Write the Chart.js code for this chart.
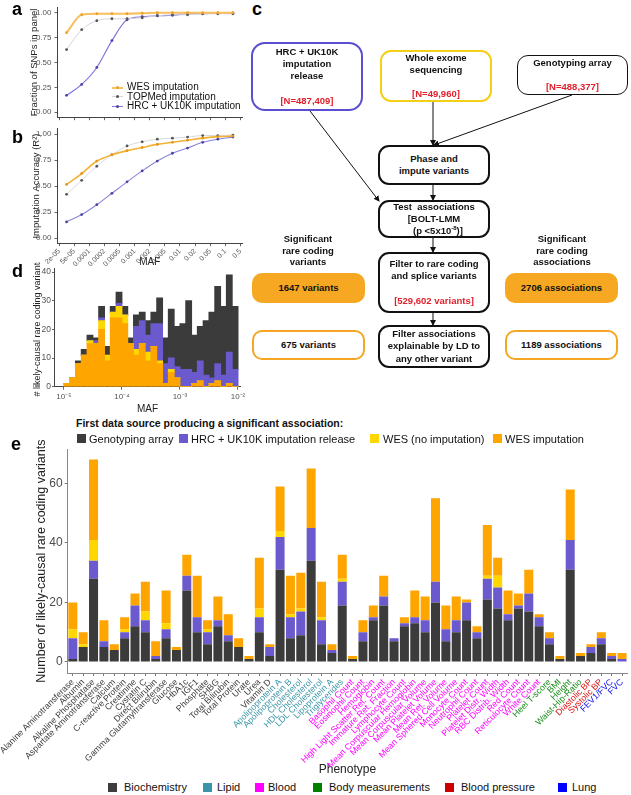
<!DOCTYPE html>
<html>
<head>
<meta charset="utf-8">
<script src="https://cdn.jsdelivr.net/npm/chart.js@4.4.1/dist/chart.umd.min.js"></script>
<style>
  body { margin: 0; background: #fff; font-family: "Liberation Sans", Arial, sans-serif; }
  #page { position: relative; width: 631px; height: 795px; overflow: hidden; }
  canvas { position: absolute; }
  .tag { position: absolute; font-weight: bold; font-size: 18px; line-height: 18px; color: #000; }
  .fbox { position: absolute; box-sizing: border-box; border: 2px solid #111; border-radius: 11px; background: #fff;
          display: flex; flex-direction: column; justify-content: center; align-items: center; text-align: center;
          font-weight: bold; font-size: 9.5px; line-height: 12.2px; color: #111; }
  .red { color: #e2202c; }
  .side { position: absolute; width: 110px; text-align: center; font-weight: bold; font-size: 9.5px; line-height: 11.7px; color: #111; }
  .sq { position: absolute; width: 9px; height: 9px; }
  .lg { position: absolute; font-size: 11px; line-height: 12px; color: #111; white-space: nowrap; }
  .keyline { position: absolute; height: 0; }
  .keydot { position: absolute; width: 3px; height: 3px; border-radius: 50%; }
</style>
</head>
<body>
<div id="page">
  <canvas id="chartA" width="250" height="125" style="left:0;top:0"></canvas>
  <canvas id="chartB" width="250" height="150" style="left:0;top:121px"></canvas>
  <canvas id="chartD" width="250" height="155" style="left:0;top:262px"></canvas>
  <canvas id="chartE" width="631" height="340" style="left:0;top:440px"></canvas>

  <div class="tag" style="left:12px;top:0px">a</div>
  <div class="tag" style="left:12px;top:128px">b</div>
  <div class="tag" style="left:252px;top:0px">c</div>
  <div class="tag" style="left:12px;top:262px">d</div>
  <div class="tag" style="left:11px;top:435px">e</div>

  <!-- panel a key -->
  <div class="keyline" style="left:112px;top:86.5px;width:11px;border-top:2px solid #f7c062"></div>
  <div class="keydot" style="left:116px;top:86px;background:#eea224"></div>
  <div class="lg" style="left:127px;top:81px;font-size:10px">WES imputation</div>
  <div class="keyline" style="left:112px;top:96px;width:11px;border-top:1px solid #d4d4de"></div>
  <div class="keydot" style="left:116px;top:95px;background:#555"></div>
  <div class="lg" style="left:127px;top:90.5px;font-size:10px">TOPMed imputation</div>
  <div class="keyline" style="left:112px;top:105.5px;width:11px;border-top:1px solid #8178d8"></div>
  <div class="keydot" style="left:116px;top:104.5px;background:#4b43a8"></div>
  <div class="lg" style="left:127px;top:100px;font-size:10px">HRC + UK10K imputation</div>

  <!-- panel c flowchart -->
  <svg width="631" height="400" style="position:absolute;left:0;top:0">
    <defs>
      <marker id="arr" markerWidth="6" markerHeight="6" refX="5" refY="3" orient="auto" markerUnits="userSpaceOnUse">
        <path d="M0,0 L6,3 L0,6 z" fill="#111"/>
      </marker>
    </defs>
    <g stroke="#111" stroke-width="1" marker-end="url(#arr)">
      <line x1="310" y1="111" x2="379" y2="201"/>
      <line x1="433" y1="102" x2="433" y2="145"/>
      <line x1="572" y1="95" x2="434" y2="145"/>
      <line x1="433" y1="185" x2="433" y2="200"/>
      <line x1="433" y1="238" x2="433" y2="252"/>
      <line x1="433" y1="313" x2="433" y2="325"/>
    </g>
  </svg>
  <div class="fbox" style="left:251px;top:42px;width:112px;height:69px;border:2.5px solid #5a4fcf;border-radius:14px">
    <div>HRC + UK10K</div><div>imputation</div><div>release</div><div>&nbsp;</div><div class="red">[N=487,409]</div>
  </div>
  <div class="fbox" style="left:380px;top:50px;width:112px;height:52px;border-color:#f4cf1a">
    <div>Whole exome</div><div>sequencing</div><div>&nbsp;</div><div class="red">[N=49,960]</div>
  </div>
  <div class="fbox" style="left:517px;top:55px;width:111px;height:40px;border-width:1.5px">
    <div>Genotyping array</div><div>&nbsp;</div><div class="red">[N=488,377]</div>
  </div>
  <div class="fbox" style="left:378px;top:145px;width:112px;height:40px">
    <div>Phase and</div><div>impute variants</div>
  </div>
  <div class="fbox" style="left:378px;top:200px;width:112px;height:38px">
    <div>Test&nbsp; associations</div><div>[BOLT-LMM</div><div>&nbsp;&nbsp;&nbsp;(p &lt;5x10<sup style="font-size:6px;line-height:0">-8</sup>)]</div>
  </div>
  <div class="fbox" style="left:378px;top:252px;width:112px;height:61px">
    <div>Filter to rare coding</div><div>and splice variants</div><div>&nbsp;</div><div class="red">[529,602 variants]</div>
  </div>
  <div class="fbox" style="left:378px;top:325px;width:112px;height:43px;border-width:2.5px">
    <div>Filter associations</div><div>explainable by LD to</div><div>any other variant</div>
  </div>
  <div class="side" style="left:253px;top:233px">Significant<br>rare coding<br>variants</div>
  <div class="side" style="left:507px;top:233px">Significant<br>rare coding<br>associations</div>
  <div class="fbox" style="left:252px;top:273px;width:113px;height:30px;border:none;background:#f7a823;border-radius:10px">1647 variants</div>
  <div class="fbox" style="left:252px;top:330px;width:113px;height:30px;border-color:#f5a623;border-radius:10px">675 variants</div>
  <div class="fbox" style="left:505px;top:273px;width:113px;height:30px;border:none;background:#f7a823;border-radius:10px">2706 associations</div>
  <div class="fbox" style="left:505px;top:330px;width:113px;height:30px;border-color:#f5a623;border-radius:10px">1189 associations</div>

  <!-- panel e source key -->
  <div class="lg" style="left:76px;top:417px;font-weight:bold;font-size:10.5px">First data source producing a significant association:</div>
  <div class="sq" style="left:77px;top:434px;background:#3b3b3b"></div>
  <div class="lg" style="left:89px;top:432.5px">Genotyping array</div>
  <div class="sq" style="left:179px;top:434px;background:#6a5acd"></div>
  <div class="lg" style="left:191px;top:432.5px">HRC + UK10K imputation release</div>
  <div class="sq" style="left:370px;top:434px;background:#ffd700"></div>
  <div class="lg" style="left:383px;top:432.5px">WES (no imputation)</div>
  <div class="sq" style="left:493px;top:434px;background:#ffa500"></div>
  <div class="lg" style="left:505px;top:432.5px">WES imputation</div>

  <!-- panel e phenotype key -->
  <div class="sq" style="left:108px;top:783px;background:#3d3d3d"></div>
  <div class="lg" style="left:124px;top:781px">Biochemistry</div>
  <div class="sq" style="left:203px;top:783px;background:#3b95a8"></div>
  <div class="lg" style="left:217px;top:781px">Lipid</div>
  <div class="sq" style="left:255px;top:783px;background:#ff00ff"></div>
  <div class="lg" style="left:268px;top:781px">Blood</div>
  <div class="sq" style="left:313px;top:783px;background:#008000"></div>
  <div class="lg" style="left:329px;top:781px">Body measurements</div>
  <div class="sq" style="left:445px;top:783px;background:#cc0000"></div>
  <div class="lg" style="left:461px;top:781px">Blood pressure</div>
  <div class="sq" style="left:558px;top:783px;background:#0000ff"></div>
  <div class="lg" style="left:572px;top:781px">Lung</div>
</div>

<script>
// panels a / b: MAF bin edges and one value per bin
const mafEdges = ['2e-05', '5e-05', '0.0001', '0.0002', '0.0005', '0.001', '0.002', '0.005', '0.01', '0.02', '0.05', '0.1', '0.5'];
const fracTicks = [0, 0.25, 0.5, 0.75, 1];

const wesFraction = [0.80, 0.98, 0.99, 0.99, 0.99, 0.995, 1.0, 1.0, 1.0, 1.0, 1.0, 1.0];
const topmedFraction = [0.63, 0.83, 0.92, 0.94, 0.94, 0.95, 0.97, 0.98, 0.98, 0.99, 0.99, 0.99];
const hrcFraction = [0.17, 0.28, 0.45, 0.72, 0.93, 0.96, 0.97, 0.975, 0.99, 0.99, 0.995, 0.995];

const wesAccuracy = [0.515, 0.62, 0.74, 0.80, 0.84, 0.87, 0.90, 0.92, 0.94, 0.96, 0.975, 0.98];
const topmedAccuracy = [0.42, 0.555, 0.69, 0.80, 0.885, 0.925, 0.95, 0.96, 0.97, 0.985, 0.985, 0.99];
const hrcAccuracy = [0.155, 0.225, 0.32, 0.43, 0.54, 0.645, 0.74, 0.815, 0.865, 0.92, 0.95, 0.97];

// panel d: 30 log10(MAF) bins of width 0.1 starting at 1e-5
const mafBinStart = -5;
const mafBinWidth = 0.1;
const mafDecades = [-5, -4, -3, -2];
const mafDecadeLabels = ['10\u207B\u2075', '10\u207B\u2074', '10\u207B\u00B3', '10\u207B\u00B2'];
const dGenotyped = [0, 0, 1, 2, 2, 1, 4, 3, 2, 4, 3, 2, 4, 3, 5, 4, 9, 9, 17, 14, 16, 24, 13, 12, 19, 23, 27, 24, 27, 22];
const dHrc = [0, 0, 0, 0, 0, 1, 1, 0, 0, 1, 0, 0, 8, 8, 6, 8, 13, 7, 4, 4, 6, 6, 4, 7, 4, 2, 6, 4, 11, 6];
const dWesNoImp = [0, 0, 0, 0, 1, 0, 3, 2, 2, 4, 3, 0, 2, 0, 3, 0, 1, 0, 1, 0, 0, 0, 0, 0, 0, 0, 0, 0, 0, 0];
const dWesImp = [1, 3, 8, 11, 15, 15, 20, 9, 24, 24, 22, 15, 11, 15, 9, 14, 8, 1, 5, 3, 0, 0, 1, 2, 0, 1, 2, 0, 1, 0];
const dTicks = [0, 10, 20, 30, 40];

// panel e
const phenotypes = [
  'Alanine Aminotransferase', 'Albumin', 'Alkaline Phosphatase', 'Aspartate Aminotransferase', 'Calcium',
  'C-reactive Protein', 'Creatinine', 'Cystatin C', 'Direct Bilirubin', 'Gamma Glutamyltransferase', 'Glucose',
  'HbA1c', 'IGF1', 'Phosphate', 'SHBG', 'Total Bilirubin', 'Total Protein', 'Urate', 'Urea', 'Vitamin D',
  'Apolipoprotein A', 'Apolipoprotein B', 'Cholesterol', 'HDL Cholesterol', 'LDL Cholesterol', 'Lipoprotein A', 'Triglycerides',
  'Basophil Count', 'Eosinophil Count', 'Hemoglobin', 'High Light Scatter Ret. Count', 'Immature Ret. Fraction',
  'Lymphocyte Count', 'Mean Corpuscular Hemoglobin', 'Mean Corpuscular Volume', 'Mean Platelet Volume', 'Mean Ret. Volume',
  'Mean Sphered Cell Volume', 'Monocyte Count', 'Neutrophil Count', 'Platelet Count', 'Platelet Distr. Width',
  'RBC Distrib. Width', 'Red Count', 'Reticulocyte Count', 'White Count',
  'Heel T-score', 'BMI', 'Height', 'Waist-Hip-Ratio', 'Diastolic BP', 'Systolic BP', 'FEV1/FVC', 'FVC'
];
const phenotypeGroups = [
  ...Array(20).fill('Biochemistry'), ...Array(7).fill('Lipid'), ...Array(19).fill('Blood'),
  ...Array(4).fill('Body measurements'), ...Array(2).fill('Blood pressure'), ...Array(2).fill('Lung')
];
const eGenotyped = [1, 5, 28, 5, 4, 8, 12, 10, 1, 8, 4, 24, 10, 6, 12, 7, 5, 1, 10, 2,
  31, 8, 9, 34, 6, 3, 19,
  1, 7, 14, 19, 7, 12, 13, 10, 20, 7, 10, 14, 8, 21, 18, 14, 18, 17, 12,
  6, 1, 31, 2, 3, 6, 1, 0];
const eHrc = [7, 0, 6, 2, 0, 2, 7, 4, 1, 3, 0, 5, 5, 4, 2, 2, 0, 0, 5, 3,
  11, 7, 8, 11, 8, 1, 8,
  0, 3, 1, 3, 1, 1, 2, 4, 7, 4, 4, 6, 2, 7, 7, 2, 1, 6, 3,
  2, 0, 10, 0, 2, 2, 1, 1];
const eWesNoImp = [3, 1, 7, 0, 0, 1, 0, 3, 0, 2, 0, 0, 0, 1, 0, 0, 0, 0, 3, 0,
  2, 1, 1, 0, 1, 0, 1,
  0, 0, 0, 0, 0, 0, 0, 0, 0, 0, 0, 0, 0, 1, 4, 0, 0, 0, 0,
  0, 0, 0, 0, 0, 0, 0, 0];
const eWesImp = [9, 4, 27, 7, 2, 4, 4, 10, 5, 11, 1, 7, 14, 3, 8, 7, 3, 1, 17, 1,
  15, 13, 12, 20, 12, 2, 8,
  1, 4, 4, 7, 0, 2, 9, 8, 28, 8, 8, 1, 2, 17, 6, 8, 4, 8, 1,
  2, 1, 17, 1, 1, 2, 1, 2];
const eTicks = [0, 20, 40, 60];

const groupColors = {
  'Biochemistry': '#3d3d3d', 'Lipid': '#3b95a8', 'Blood': '#ff00ff',
  'Body measurements': '#158a15', 'Blood pressure': '#dd1111', 'Lung': '#1111ee'
};
const sourceColors = { geno: '#3b3b3b', hrc: '#6a5acd', wesNoImp: '#ffd700', wesImp: '#ffa500' };

Chart.defaults.font.family = '"Liberation Sans", Arial, sans-serif';
Chart.defaults.animation = false;
Chart.defaults.plugins.legend.display = false;
Chart.defaults.plugins.tooltip.enabled = false;

// helpers to pin axis sizes so the plot areas land where the figure has them
const fixWidth = w => s => { s.width = w; };
const fixHeight = h => s => { s.height = h; };
const setTicks = vals => s => { s.ticks = vals.map(v => ({ value: v })); };

function lineSet(label, values, lineColor, pointColor, width) {
  return {
    label,
    data: values.map((v, i) => ({ x: i + 0.5, y: v })),
    borderColor: lineColor,
    borderWidth: width,
    pointRadius: 1.4,
    pointBackgroundColor: pointColor,
    pointBorderWidth: 0,
    cubicInterpolationMode: 'monotone',
    fill: false
  };
}

function mafAxis(showLabels, height, title) {
  return {
    type: 'linear', min: -0.1, max: 12.1,
    afterBuildTicks: setTicks(mafEdges.map((_, i) => i)),
    ticks: { display: showLabels, autoSkip: false, minRotation: 45, maxRotation: 45,
             font: { size: 7 }, color: '#555', padding: 1, callback: v => mafEdges[v] },
    grid: { drawOnChartArea: false, tickLength: 3, color: '#666' },
    border: { color: '#444' },
    title: { display: !!title, text: title, font: { size: 10 }, color: '#222', padding: 0 },
    afterFit: fixHeight(height)
  };
}

function fracAxis(title, width) {
  return {
    min: -0.05, max: 1.05,
    afterBuildTicks: setTicks(fracTicks),
    ticks: { font: { size: 8 }, color: '#555', padding: 3, callback: v => v.toFixed(2) },
    grid: { drawOnChartArea: false, tickLength: 3, color: '#666' },
    border: { color: '#444' },
    title: { display: true, text: title, font: { size: 9.5 }, color: '#222', padding: 0 },
    afterFit: fixWidth(width)
  };
}

// a: fraction of SNPs in panel
new Chart(document.getElementById('chartA'), {
  type: 'line',
  data: { datasets: [
    lineSet('WES imputation', wesFraction, '#f7c062', '#eea224', 2.2),
    lineSet('TOPMed imputation', topmedFraction, '#d4d4de', '#555', 1),
    lineSet('HRC + UK10K imputation', hrcFraction, '#8178d8', '#4b43a8', 1.2)
  ] },
  options: {
    responsive: false,
    layout: { padding: { left: 28.3, top: 0.5, right: 8, bottom: 0 }, autoPadding: false },
    scales: { x: mafAxis(false, 3.5), y: fracAxis('Fraction of SNPs in panel', 29.2) }
  }
});

// b: imputation accuracy
new Chart(document.getElementById('chartB'), {
  type: 'line',
  data: { datasets: [
    lineSet('WES imputation', wesAccuracy, '#f2b234', '#e8961a', 1.6),
    lineSet('TOPMed imputation', topmedAccuracy, '#d8d8e2', '#555', 1),
    lineSet('HRC + UK10K imputation', hrcAccuracy, '#8a84d8', '#4b43a8', 1.1)
  ] },
  options: {
    responsive: false,
    layout: { padding: { left: 30.3, top: 1.2, right: 8, bottom: 3 }, autoPadding: false },
    scales: { x: mafAxis(true, 24.8, 'MAF'), y: fracAxis('Imputation Accuracy (R\u00B2)', 27.2) }
  }
});

// d: histogram of likely-causal variants by MAF (WES imputation at the bottom of each stack)
function binSet(label, values, color) {
  return {
    label,
    data: values.map((v, i) => ({ x: mafBinStart + mafBinWidth * (i + 0.5), y: v })),
    backgroundColor: color,
    borderWidth: 0,
    barPercentage: 1,
    categoryPercentage: 1,
    inflateAmount: 0.5
  };
}

new Chart(document.getElementById('chartD'), {
  type: 'bar',
  data: { datasets: [
    binSet('WES imputation', dWesImp, sourceColors.wesImp),
    binSet('WES (no imputation)', dWesNoImp, sourceColors.wesNoImp),
    binSet('HRC + UK10K imputation release', dHrc, sourceColors.hrc),
    binSet('Genotyping array', dGenotyped, sourceColors.geno)
  ] },
  options: {
    responsive: false,
    layout: { padding: { left: 32.1, top: 1, right: 9.1, bottom: 2 }, autoPadding: false },
    scales: {
      x: {
        type: 'linear', min: -5.17, max: -1.95, stacked: true, offset: false,
        afterBuildTicks: setTicks(mafDecades),
        ticks: { font: { size: 8 }, color: '#555', padding: 2, maxRotation: 0,
                 callback: v => mafDecadeLabels[mafDecades.indexOf(v)] },
        grid: { drawOnChartArea: false, offset: false, tickLength: 3, color: '#666' },
        border: { color: '#444' },
        title: { display: true, text: 'MAF', font: { size: 10 }, color: '#222', padding: 0 },
        afterFit: fixHeight(28.3)
      },
      y: {
        min: 0, max: 41.4, stacked: true,
        afterBuildTicks: setTicks(dTicks),
        ticks: { font: { size: 8.5 }, color: '#555', padding: 1 },
        grid: { drawOnChartArea: false, tickLength: 2, color: '#666' },
        border: { color: '#444' },
        title: { display: true, text: '# likely-causal rare coding variants', font: { size: 9 }, color: '#222', padding: 0 },
        afterFit: fixWidth(21.9)
      }
    }
  }
});

// e: likely-causal rare coding variants per phenotype
function phenoSet(label, values, color) {
  return { label, data: values, backgroundColor: color, borderWidth: 0, barPercentage: 0.87, categoryPercentage: 1 };
}

new Chart(document.getElementById('chartE'), {
  type: 'bar',
  data: {
    labels: phenotypes,
    datasets: [
      phenoSet('Genotyping array', eGenotyped, sourceColors.geno),
      phenoSet('HRC + UK10K imputation release', eHrc, sourceColors.hrc),
      phenoSet('WES (no imputation)', eWesNoImp, sourceColors.wesNoImp),
      phenoSet('WES imputation', eWesImp, sourceColors.wesImp)
    ]
  },
  options: {
    responsive: false,
    layout: { padding: { left: 31, top: 8, right: 3.8, bottom: 2.8 }, autoPadding: false },
    scales: {
      x: {
        stacked: true,
        ticks: { autoSkip: false, minRotation: 45, maxRotation: 45, padding: 1, font: { size: 8.8 },
                 color: ctx => groupColors[phenotypeGroups[ctx.index]] },
        grid: { drawOnChartArea: false, offset: false, tickLength: 3, color: '#777' },
        border: { color: '#888' },
        title: { display: true, text: 'Phenotype', font: { size: 12 }, color: '#222', padding: 0 },
        afterFit: fixHeight(104.2)
      },
      y: {
        stacked: true, min: -3.7, max: 71.5,
        afterBuildTicks: setTicks(eTicks),
        ticks: { font: { size: 12 }, color: '#4d4d4d', padding: 2 },
        grid: { drawOnChartArea: false, tickLength: 3, color: '#777' },
        border: { color: '#888' },
        title: { display: true, text: 'Number of likely-causal rare coding variants', font: { size: 12.5 }, color: '#222', padding: 0 },
        afterFit: fixWidth(33.3)
      }
    }
  }
});
</script>
</body>
</html>
